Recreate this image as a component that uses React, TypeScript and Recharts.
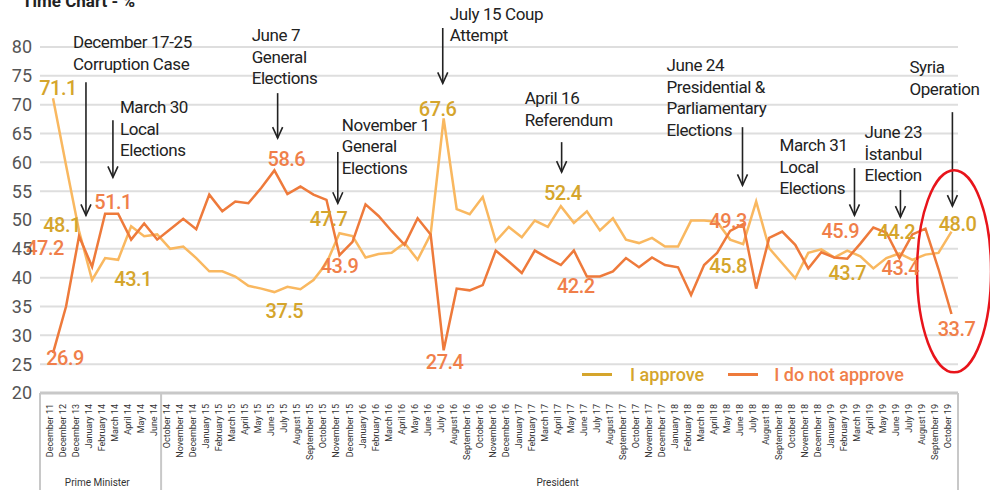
import { LineChart, Line, XAxis, YAxis, CartesianGrid, ReferenceLine, ReferenceDot, Legend } from 'recharts'

const periods = [
  'December 11', 'December 12', 'December 13', 'January 14', 'February 14', 'March 14', 'April 14', 'May 14', 'June 14',
  'October 14', 'November 14', 'December 14',
  'January 15', 'February 15', 'March 15', 'April 15', 'May 15', 'June 15', 'July 15', 'August 15', 'September 15', 'October 15', 'November 15', 'December 15',
  'January 16', 'February 16', 'March 16', 'April 16', 'May 16', 'June 16', 'July 16', 'August 16', 'September 16', 'October 16', 'November 16', 'December 16',
  'January 17', 'February 17', 'March 17', 'April 17', 'May 17', 'June 17', 'July 17', 'August 17', 'September 17', 'October 17', 'November 17', 'December 17',
  'January 18', 'February 18', 'March 18', 'April 18', 'May 18', 'June 18', 'July 18', 'August 18', 'September 18', 'October 18', 'November 18', 'December 18',
  'January 19', 'February 19', 'March 19', 'April 19', 'May 19', 'June 19', 'July 19', 'August 19', 'September 19', 'October 19',
]

const approve = [
  71.1, 59.5, 48.1, 39.6, 43.4, 43.1, 48.9, 47.2, 47.5, 45.0,
  45.4, 43.4, 41.1, 41.1, 40.2, 38.6, 38.1, 37.5, 38.4, 38.0,
  39.6, 42.5, 47.7, 47.2, 43.5, 44.1, 44.3, 46.0, 43.1, 47.5,
  67.6, 51.9, 51.0, 54.0, 46.3, 48.8, 47.0, 49.9, 48.8, 52.4,
  49.5, 51.5, 48.2, 50.3, 46.6, 46.0, 46.9, 45.4, 45.4, 49.9,
  49.9, 49.7, 46.6, 45.8, 53.2, 45.1, 42.5, 39.9, 44.3, 44.9,
  43.5, 44.7, 43.7, 41.6, 43.4, 44.2, 43.1, 44.0, 44.3, 48.0,
]

const disapprove = [
  26.9, 35.0, 47.2, 41.9, 51.1, 51.1, 46.6, 49.4, 46.6, 48.4,
  50.2, 48.4, 54.4, 51.5, 53.2, 52.9, 55.6, 58.6, 54.5, 55.8,
  54.4, 53.5, 43.9, 46.2, 52.7, 50.7, 48.1, 45.7, 50.3, 47.5,
  27.4, 38.1, 37.8, 38.7, 44.7, 42.8, 40.8, 44.7, 43.4, 42.2,
  44.7, 40.2, 40.2, 41.1, 43.4, 41.8, 43.5, 42.2, 41.8, 37.0,
  42.2, 44.3, 48.1, 49.3, 38.1, 46.9, 48.0, 45.7, 41.6, 44.4,
  43.5, 43.3, 45.9, 48.7, 47.8, 43.4, 47.5, 48.5, 41.5, 33.7,
]

const yTicks = [20, 25, 30, 35, 40, 45, 50, 55, 60, 65, 70, 75, 80]

// events marked with an arrow: where the arrow sits and its caption
const events = [
  { at: 2.53, from: 73.9, to: 50.8, lines: ['December 17-25', 'Corruption Case'], dx: -13, dy: -40 },
  { at: 4.6, from: 67.3, to: 57.4, lines: ['March 30', 'Local', 'Elections'], dx: 7, dy: -13 },
  { at: 17.25, from: 72.0, to: 64.2, lines: ['June 7', 'General', 'Elections'], dx: -26, dy: -58 },
  { at: 21.87, from: 61.8, to: 52.9, lines: ['November 1', 'General', 'Elections'], dx: 4, dy: -27 },
  { at: 29.93, from: 83.3, to: 73.7, lines: ['July 15 Coup', 'Attempt'], dx: 7, dy: -14 },
  { at: 39.06, from: 63.5, to: 58.3, lines: ['April 16', 'Referendum'], dx: -37, dy: -44 },
  { at: 52.95, from: 66.1, to: 56.0, lines: ['June 24', 'Presidential &', 'Parliamentary', 'Elections'], dx: -76, dy: -62 },
  { at: 61.55, from: 59.0, to: 50.8, lines: ['March 31', 'Local', 'Elections'], dx: -75, dy: -23 },
  { at: 65.08, from: 55.2, to: 50.5, lines: ['June 23', 'İstanbul', 'Election'], dx: -36, dy: -58 },
  { at: 69.07, from: 68.7, to: 52.4, lines: ['Syria', 'Operation'], dx: -43, dy: -45 },
]

// labelled points: index -> label offset from the point (px)
const approveLabels: Record<number, [number, number]> = {
  0: [5, -10], 2: [-17, -6], 5: [15, 19], 17: [10, 19], 22: [-11, -14], 30: [-6, -10],
  39: [2, -13], 53: [-15, 22], 62: [-13, 17], 65: [-3, -21], 69: [6, -8],
}
const disapproveLabels: Record<number, [number, number]> = {
  0: [12, 5], 2: [-34, 12], 4: [8, -12], 17: [12, -11], 22: [0, 11], 30: [1, 12],
  39: [15, 21], 53: [-15, -3], 62: [-20, -13], 65: [1, 10], 69: [5, 15],
}

const APPROVE_LINE = '#F9B860'
const APPROVE_TEXT = '#D5A52C'
const DISAPPROVE_LINE = '#EE7A3B'
const DISAPPROVE_TEXT = '#F07F4A'
const FRAME = '#c8c8c8'

const data = periods.map((period, i) => ({
  idx: i,
  period,
  approve: approve[i],
  disapprove: disapprove[i],
}))
const tickIdx = periods.map((_, i) => i)

const MonthTick = (props: any) => {
  const { x, y, payload } = props
  const tx = x - 3
  const ty = y + 3
  return (
    <text x={tx} y={ty} transform={`rotate(-90, ${tx}, ${ty})`} textAnchor="end" dominantBaseline="central" fontSize={9} fill="#333">
      {periods[payload.value]}
    </text>
  )
}

const valueLabel = (placement: Record<number, [number, number]>, color: string) => (p: any) => {
  const pos = placement[p.index]
  if (!pos) return <g key={`d-${p.index}`} />
  return (
    <text key={`d-${p.index}`} x={p.cx + pos[0]} y={p.cy + pos[1]} textAnchor="middle" dominantBaseline="central"
      fill={color} fontSize={20} fontWeight={500} letterSpacing={-0.5}>
      {Number(p.value).toFixed(1)}
    </text>
  )
}

const arrowShape = (ev: typeof events[number]) => (p: any) => {
  const { x1, y1, y2 } = p
  const top = Math.min(y1, y2)
  const bottom = Math.max(y1, y2)
  return (
    <g>
      <line x1={x1} y1={top} x2={x1} y2={bottom} stroke="#222" strokeWidth={1.6} />
      <polyline points={`${x1 - 5},${bottom - 11} ${x1},${bottom} ${x1 + 5},${bottom - 11}`} fill="none" stroke="#222" strokeWidth={1.6} />
      <text x={x1 + ev.dx} y={top + ev.dy} fontSize={17} fill="#222" dominantBaseline="central" letterSpacing={-0.4}>
        {ev.lines.map((l, k) => (
          <tspan key={k} x={x1 + ev.dx} dy={k === 0 ? 0 : 21.5}>{l}</tspan>
        ))}
      </text>
    </g>
  )
}

const frameLine = (p: any) => <line x1={p.x1} y1={p.y1} x2={p.x2} y2={p.y2} stroke={FRAME} strokeWidth={2} />

const groupLabel = (text: string) => (p: any) => (
  <text x={p.cx} y={p.cy} textAnchor="middle" dominantBaseline="central" fontSize={10} fill="#333">{text}</text>
)

const renderLegend = () => (
  <div style={{ display: 'flex', alignItems: 'center', fontSize: 18, fontWeight: 500 }}>
    <span style={{ width: 30, height: 3, background: APPROVE_TEXT, display: 'inline-block', marginRight: 18 }} />
    <span style={{ color: APPROVE_TEXT, marginRight: 24 }}>I approve</span>
    <span style={{ width: 30, height: 3, background: DISAPPROVE_LINE, display: 'inline-block', marginRight: 16 }} />
    <span style={{ color: DISAPPROVE_TEXT }}>I do not approve</span>
  </div>
)

export default function App() {
  return (
    <div style={{ position: 'relative', width: 990, height: 490, overflow: 'hidden', background: '#fff', fontFamily: 'Roboto, sans-serif' }}>
      <style>{'body{margin:0}'}</style>
      <div style={{ position: 'absolute', left: 22, top: -7, fontSize: 17, fontWeight: 700, color: '#222', lineHeight: '17px' }}>
        Time Chart - %
      </div>
      <LineChart width={990} height={490} data={data} margin={{ top: 47, right: 32, bottom: 0, left: 0 }}>
        <CartesianGrid vertical={false} stroke="#dedede" strokeWidth={2} />
        <XAxis
          dataKey="idx"
          type="number"
          domain={[-1, 69.5]}
          ticks={tickIdx}
          interval={0}
          tick={<MonthTick />}
          tickLine={false}
          axisLine={{ stroke: FRAME, strokeWidth: 3 }}
          height={97}
        />
        <YAxis
          domain={[20, 80]}
          ticks={yTicks}
          width={40}
          axisLine={false}
          tickLine={false}
          tick={{ fontSize: 18, fill: '#555' }}
        />
        <ReferenceLine segment={[{ x: -1, y: 20 }, { x: -1, y: 3 }]} ifOverflow="visible" shape={frameLine} />
        <ReferenceLine segment={[{ x: 8.3, y: 20 }, { x: 8.3, y: 3 }]} ifOverflow="visible" shape={frameLine} />
        <ReferenceLine segment={[{ x: 69.5, y: 20 }, { x: 69.5, y: 3 }]} ifOverflow="visible" shape={frameLine} />
        <ReferenceDot x={3.4} y={4.4} r={0} ifOverflow="visible" shape={groupLabel('Prime Minister')} />
        <ReferenceDot x={38.75} y={4.4} r={0} ifOverflow="visible" shape={groupLabel('President')} />
        <Line
          type="linear"
          dataKey="approve"
          stroke={APPROVE_LINE}
          strokeWidth={2.5}
          dot={valueLabel(approveLabels, APPROVE_TEXT)}
          activeDot={false}
          isAnimationActive={false}
        />
        <Line
          type="linear"
          dataKey="disapprove"
          stroke={DISAPPROVE_LINE}
          strokeWidth={2.5}
          dot={valueLabel(disapproveLabels, DISAPPROVE_TEXT)}
          activeDot={false}
          isAnimationActive={false}
        />
        {events.map((ev, i) => (
          <ReferenceLine
            key={i}
            segment={[{ x: ev.at, y: ev.from }, { x: ev.at, y: ev.to }]}
            ifOverflow="visible"
            shape={arrowShape(ev)}
          />
        ))}
        <ReferenceDot
          x={69.2}
          y={41.1}
          r={0}
          ifOverflow="visible"
          shape={(p: any) => <ellipse cx={p.cx} cy={p.cy} rx={37} ry={101} fill="none" stroke="#E8141B" strokeWidth={2.5} />}
        />
        <Legend
          layout="horizontal"
          verticalAlign="middle"
          align="center"
          content={renderLegend}
          wrapperStyle={{ position: 'absolute', left: 582, top: 364, width: 380 }}
        />
      </LineChart>
    </div>
  )
}
